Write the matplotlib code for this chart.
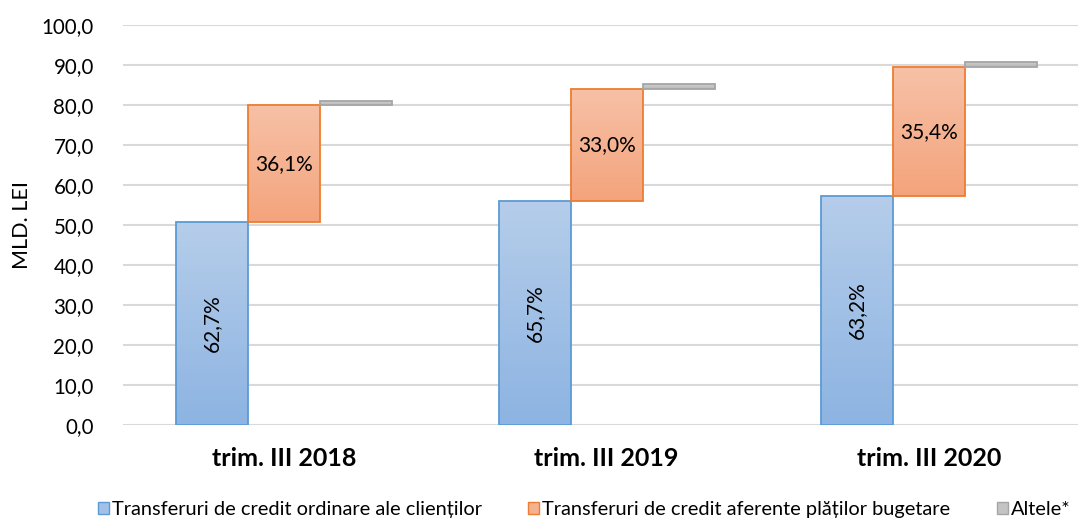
import matplotlib.pyplot as plt
import numpy as np
from matplotlib.patches import Patch

# data (MLD. LEI)
categories = ['trim. III 2018', 'trim. III 2019', 'trim. III 2020']
ordinare = [50.7, 56.0, 57.3]
bugetare = [29.3, 28.1, 32.1]
altele = [1.0, 1.1, 1.3]
pct_ordinare = ['62,7%', '65,7%', '63,2%']
pct_bugetare = ['36,1%', '33,0%', '35,4%']
legend_labels = ['Transferuri de credit ordinare ale clienților',
                 'Transferuri de credit aferente plăților bugetare',
                 'Altele*']

plt.rcParams['font.family'] = ['Lato', 'DejaVu Sans']

fig = plt.figure(figsize=(10.78, 5.18), dpi=100)
ax = fig.add_axes([123 / 1078, 93 / 518, 1 - 123 / 1078, 400 / 518])

w = 0.2233
x = np.arange(len(categories))


def grad_bar(xc, bottom, height, top_col, bot_col, edge):
    # vertical gradient fill, clipped to the bar rectangle
    grad = np.linspace(0, 1, 64).reshape(-1, 1)
    c1 = np.array(plt.matplotlib.colors.to_rgb(top_col))
    c2 = np.array(plt.matplotlib.colors.to_rgb(bot_col))
    img = c2 + (c1 - c2) * grad[..., None]
    bar = ax.bar(xc, height, w, bottom=bottom, facecolor='none',
                 edgecolor=edge, linewidth=1.3, zorder=3)[0]
    im = ax.imshow(img, extent=[xc - w / 2, xc + w / 2, bottom, bottom + height],
                   origin='lower', aspect='auto', zorder=2)
    im.set_clip_path(bar)


for i in range(len(categories)):
    grad_bar(x[i] - w, 0, ordinare[i], '#b5cdea', '#8db4e2', '#5b9bd5')
    grad_bar(x[i], ordinare[i], bugetare[i], '#f7c1a7', '#f4a47c', '#ed7d31')
    grad_bar(x[i] + w, ordinare[i] + bugetare[i], altele[i], '#d0d0d0', '#b8b8b8', '#a5a5a5')
    ax.text(x[i] - w, ordinare[i] / 2, pct_ordinare[i], rotation=90,
            ha='center', va='center', fontsize=15, zorder=4)
    ax.text(x[i], ordinare[i] + bugetare[i] / 2, pct_bugetare[i],
            ha='center', va='center', fontsize=15, zorder=4)

ax.set_xlim(-0.5, 2.462)
ax.set_ylim(0, 100)
ax.set_yticks(np.arange(0, 101, 10))
ax.set_yticklabels([f'{v:.1f}'.replace('.', ',') for v in np.arange(0, 101, 10)], fontsize=14.8)
ax.set_xticks(x)
ax.set_xticklabels(categories, fontsize=18, fontweight='bold')
ax.tick_params(length=0)
ax.tick_params(axis='y', pad=21)
ax.tick_params(axis='x', pad=16)
ax.yaxis.grid(color='#d9d9d9', linewidth=1.5, zorder=0)
ax.set_axisbelow(True)
for s in ax.spines.values():
    s.set_visible(False)
ax.set_ylabel('MLD. LEI', fontsize=15.5, labelpad=7)

handles = [Patch(facecolor='#a3c1e6', edgecolor='#5b9bd5'),
           Patch(facecolor='#f5b291', edgecolor='#ed7d31'),
           Patch(facecolor='#c4c4c4', edgecolor='#a5a5a5')]
fig.legend(handles, legend_labels, loc='lower center', bbox_to_anchor=(0.542, -0.035),
           ncol=3, frameon=False, fontsize=14.4, handlelength=0.55, handleheight=0.55,
           handletextpad=0.15, columnspacing=2.3)

fig.savefig('out.png', dpi=100)
